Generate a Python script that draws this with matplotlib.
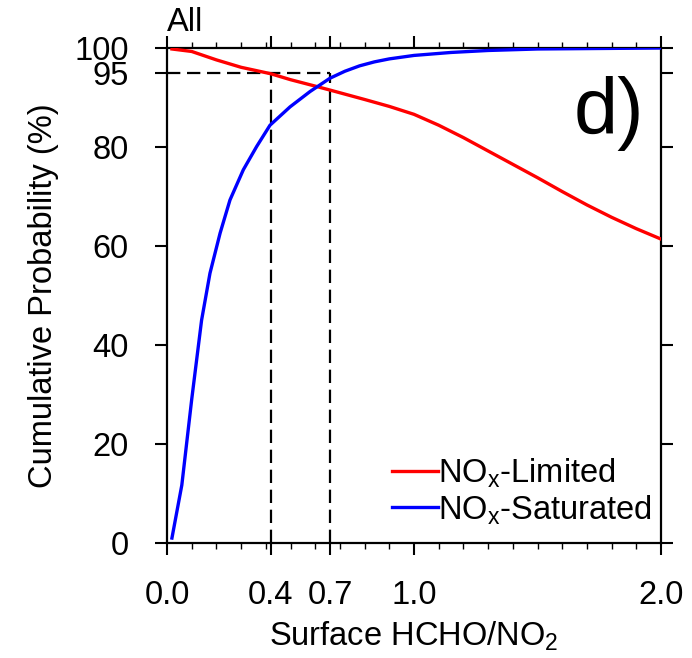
import matplotlib
matplotlib.use("Agg")
import matplotlib.pyplot as plt
import numpy as np

plt.rcParams['font.family'] = ['Liberation Sans', 'DejaVu Sans']
plt.rcParams['mathtext.fontset'] = 'custom'
plt.rcParams['mathtext.rm'] = 'Liberation Sans'

# Data
limited_x = [0.02, 0.1, 0.2, 0.3, 0.42, 0.5, 0.6, 0.66, 0.8, 0.9, 1.0, 1.1, 1.2,
             1.3, 1.4, 1.5, 1.6, 1.7, 1.8, 1.9, 2.0]
limited_y = [99.8, 99.3, 97.6, 96.1, 94.8, 93.6, 92.3, 91.5, 89.6, 88.2, 86.6, 84.4,
             81.9, 79.2, 76.5, 73.8, 71.0, 68.3, 65.8, 63.5, 61.4]
saturated_x = [0.02, 0.06, 0.10, 0.14, 0.174, 0.215, 0.255, 0.309, 0.363, 0.417,
               0.498, 0.579, 0.66, 0.72, 0.78, 0.84, 0.9, 1.0, 1.15, 1.3, 1.5, 1.75, 2.0]
saturated_y = [1.0, 11.7, 29.0, 45.0, 54.5, 62.6, 69.3, 75.4, 80.1, 84.4,
               88.1, 91.2, 93.9, 95.3, 96.4, 97.2, 97.8, 98.5, 99.1, 99.5, 99.8, 99.9, 100.0]
thresh_x = [0.42, 0.66]
thresh_y = 95
xticks = [0.0, 0.42, 0.66, 1.0, 2.0]
xticklabels = ["0.0", "0.4", "0.7", "1.0", "2.0"]
xminor = [0.1, 0.2, 0.3, 0.4, 0.5, 0.6, 0.7, 0.8, 0.9, 1.1, 1.2, 1.3, 1.4, 1.5,
          1.6, 1.7, 1.8, 1.9]
yticks = [0, 20, 40, 60, 80, 95, 100]
labels = [r'NO$_\mathregular{x}$-Limited', r'NO$_\mathregular{x}$-Saturated']

fig = plt.figure(figsize=(6.92, 6.58), dpi=100)
ax = fig.add_axes([167/692, 1-543/658, (661-167)/692, (543-48)/658])

fs = 23.5
ax.plot(limited_x, limited_y, color='#ff0000', lw=2.4, label=labels[0], zorder=3,
        solid_joinstyle='round')
ax.plot(saturated_x, saturated_y, color='#0000ff', lw=2.4, label=labels[1], zorder=3,
        solid_joinstyle='round')

dash = (0, (6, 3))
ax.plot([0, max(thresh_x)], [thresh_y, thresh_y], color='black', lw=1.6, linestyle=dash, zorder=2)
for tx in thresh_x:
    ax.plot([tx, tx], [0, thresh_y], color='black', lw=1.6, linestyle=dash, zorder=2)

ax.set_xlim(0, 2.0)
ax.set_ylim(0, 100)
ax.set_xticks(xticks)
ax.set_xticklabels(xticklabels)
ax.set_xticks(xminor, minor=True)
ax.set_yticks(yticks)
ax.set_yticklabels([str(v) for v in yticks])

for s in ax.spines.values():
    s.set_linewidth(1.6)
ax.tick_params(which='major', direction='out', length=8.5, width=1.5, labelsize=fs,
               top=True, right=True)
ax.tick_params(axis='y', which='major', pad=19)
ax.tick_params(axis='x', which='major', pad=18)
ax.tick_params(which='minor', direction='out', length=4, width=1.0, top=True, right=False)
ax.tick_params(axis='y', which='minor', left=False, right=False)

ax.set_xlabel(r'Surface HCHO/NO$_\mathregular{2}$', fontsize=fs, labelpad=6)
ax.set_ylabel('Cumulative Probability (%)', fontsize=fs, labelpad=11)

ax.text(0.0, 1.02, 'All', transform=ax.transAxes, fontsize=fs, ha='left', va='bottom')
ax.text(0.965, 0.826, 'd)', transform=ax.transAxes, fontsize=57, ha='right', va='baseline')

leg = ax.legend(loc='lower right', bbox_to_anchor=(0.995, 0.02), frameon=False, fontsize=fs,
                handlelength=1.4, handletextpad=0.0, labelspacing=0.08, borderaxespad=0.0,
                borderpad=0.2)

fig.savefig('out.png', dpi=100)
